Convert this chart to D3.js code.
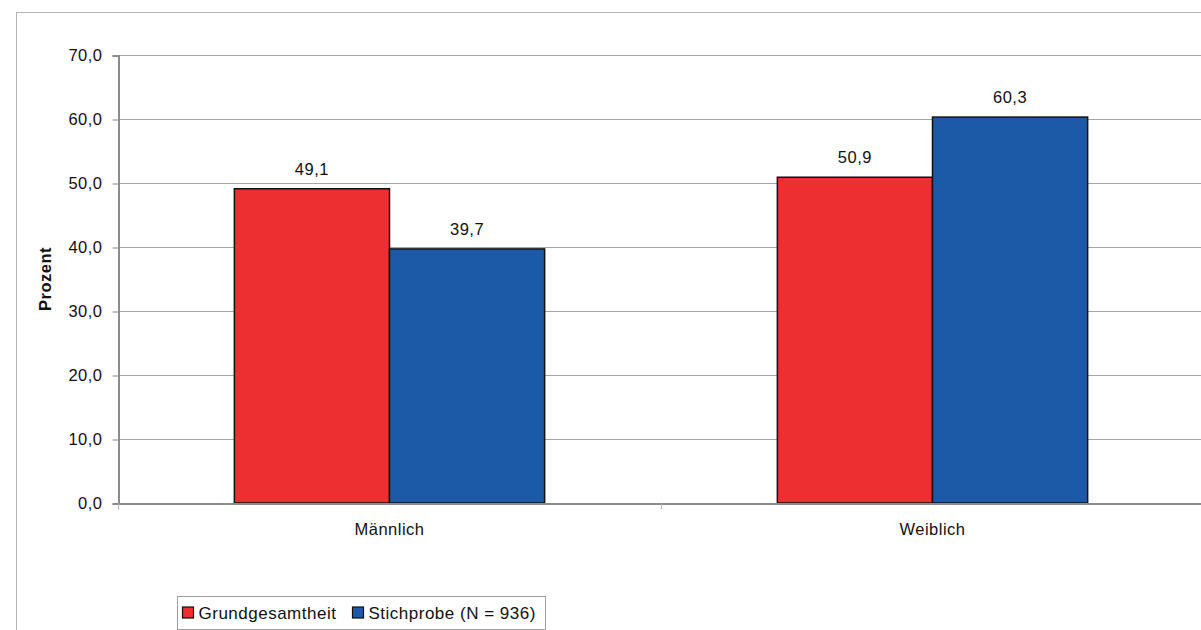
<!DOCTYPE html>
<html>
<head>
<meta charset="utf-8">
<script src="https://cdn.jsdelivr.net/npm/d3@7"></script>
<style>
  html, body { margin: 0; padding: 0; background: #fff; }
  svg { display: block; font-family: "Liberation Sans", Arial, sans-serif; }
  svg text { letter-spacing: 0.5px; }
</style>
</head>
<body>
<svg id="chart" width="1201" height="630"></svg>
<script>
// Geschlechterverteilung: Grundgesamtheit vs. Stichprobe
const categories = ["Männlich", "Weiblich"];
const seriesNames = ["Grundgesamtheit", "Stichprobe (N = 936)"];
const grundgesamtheit = [49.1, 50.9];
const stichprobe = [39.7, 60.3];
const yTicks = [0, 10, 20, 30, 40, 50, 60, 70];
const colors = ["#ee2f32", "#1c5aa7"];

const svg = d3.select("#chart");
const plot = { left: 118, top: 55, right: 1204, bottom: 503 };
const fmt = v => d3.format(".1f")(v).replace(".", ",");
const FS = 16.5;

// outer chart frame (partly outside the view)
svg.append("rect")
  .attr("x", 16.5).attr("y", 12.5)
  .attr("width", 1300).attr("height", 700)
  .attr("fill", "#fff").attr("stroke", "#b4b4b4").attr("stroke-width", 1);

const x0 = d3.scaleBand().domain(categories)
  .range([plot.left, plot.right]).paddingInner(0).paddingOuter(0);
const x1 = d3.scaleBand().domain(seriesNames)
  .range([0, x0.bandwidth()]).paddingInner(0).paddingOuter(0.75);
const y = d3.scaleLinear().domain([0, 70]).range([plot.bottom, plot.top]);

// gridlines
svg.append("g").selectAll("line").data(yTicks.filter(t => t > 0)).join("line")
  .attr("x1", plot.left).attr("x2", plot.right)
  .attr("y1", d => Math.round(y(d)) + 0.5).attr("y2", d => Math.round(y(d)) + 0.5)
  .attr("stroke", "#a6a6a6").attr("stroke-width", 1);

// y axis
const yAxis = d3.axisLeft(y).tickValues(yTicks).tickFormat(fmt).tickSize(6).tickPadding(10);
const gy = svg.append("g").attr("transform", `translate(${plot.left + 0.5},0.5)`).call(yAxis);
gy.select(".domain").attr("stroke", "#8c8c8c").attr("stroke-width", 2);
gy.selectAll(".tick line").attr("stroke", "#8c8c8c");
gy.selectAll(".tick text").attr("font-size", FS).attr("fill", "#111")
  .attr("font-family", "Liberation Sans, Arial, sans-serif");

// bars
const data = categories.map((c, i) => ({
  cat: c,
  values: [
    { s: seriesNames[0], v: grundgesamtheit[i], c: colors[0] },
    { s: seriesNames[1], v: stichprobe[i], c: colors[1] }
  ]
}));

const groups = svg.append("g").selectAll("g").data(data).join("g")
  .attr("transform", d => `translate(${x0(d.cat)},0)`);

groups.selectAll("rect").data(d => d.values).join("rect")
  .attr("x", d => x1(d.s))
  .attr("y", d => y(d.v))
  .attr("width", x1.bandwidth())
  .attr("height", d => y(0) - y(d.v))
  .attr("fill", d => d.c)
  .attr("stroke", "#111").attr("stroke-width", 1.5);

groups.selectAll("text").data(d => d.values).join("text")
  .attr("x", d => x1(d.s) + x1.bandwidth() / 2)
  .attr("y", d => y(d.v) - 14)
  .attr("text-anchor", "middle")
  .attr("font-size", FS).attr("fill", "#111")
  .text(d => fmt(d.v));

// x axis
const xAxis = d3.axisBottom(x0).tickSize(0).tickPadding(20);
const gx = svg.append("g").attr("transform", `translate(0,${plot.bottom + 0.5})`).call(xAxis);
gx.select(".domain").attr("stroke", "#8c8c8c").attr("stroke-width", 2);
gx.selectAll(".tick text").attr("font-size", FS).attr("fill", "#111")
  .attr("font-family", "Liberation Sans, Arial, sans-serif");
// category separators
gx.append("g").selectAll("line")
  .data([plot.left, plot.left + x0.bandwidth()]).join("line")
  .attr("x1", d => d + 0.5).attr("x2", d => d + 0.5)
  .attr("y1", 0).attr("y2", 6)
  .attr("stroke", "#b4b4b4");

// y axis title
svg.append("text")
  .attr("transform", `translate(51,${(plot.top + plot.bottom) / 2}) rotate(-90)`)
  .attr("text-anchor", "middle")
  .attr("font-size", FS).attr("font-weight", "bold").attr("fill", "#111")
  .text("Prozent");

// legend
const lg = svg.append("g").attr("transform", "translate(177.5,596.5)");
lg.append("rect").attr("width", 368).attr("height", 33)
  .attr("fill", "#fff").attr("stroke", "#a0a0a0");
const items = [
  { name: seriesNames[0], color: colors[0], x: 5 },
  { name: seriesNames[1], color: colors[1], x: 175 }
];
items.forEach(it => {
  lg.append("rect").attr("x", it.x).attr("y", 10.5).attr("width", 11).attr("height", 11)
    .attr("fill", it.color).attr("stroke", "#111").attr("stroke-width", 1.2);
  lg.append("text").attr("x", it.x + 16).attr("y", 22)
    .attr("font-size", 17).attr("fill", "#111").text(it.name);
});
</script>
</body>
</html>
